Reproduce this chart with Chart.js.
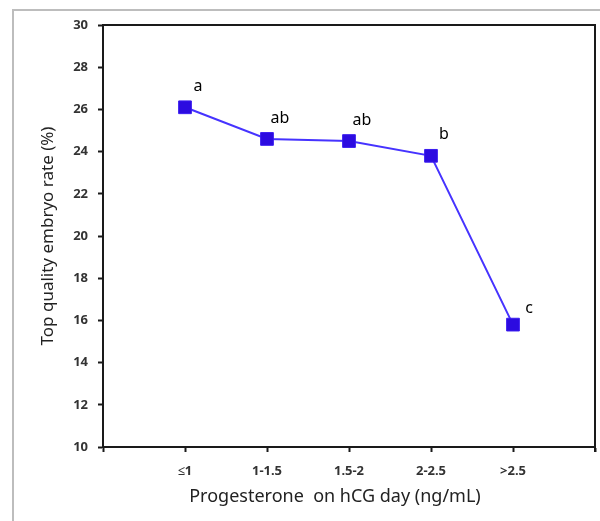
<!DOCTYPE html>
<html>
<head>
<meta charset="utf-8">
<script src="https://cdn.jsdelivr.net/npm/chart.js@4.4.0/dist/chart.umd.min.js"></script>
<style>
  html, body { margin: 0; padding: 0; background: #fff; }
  #wrap { position: relative; width: 600px; height: 521px; }
  #frame { position: absolute; left: 12px; top: 9px; right: -10px; bottom: -10px;
           border-left: 2px solid #bdbdbd; border-top: 2px solid #bdbdbd; pointer-events: none; }
</style>
</head>
<body>
<div id="wrap">
  <canvas id="myChart" width="600" height="521"></canvas>
  <div id="frame"></div>
</div>
<script>
// groups of progesterone on hCG day
const categories = ["≤1", "1-1.5", "1.5-2", "2-2.5", ">2.5"];
const rates = [26.1, 24.6, 24.5, 23.8, 15.8];
const letters = ["a", "ab", "ab", "b", "c"];
const yTicks = [10, 12, 14, 16, 18, 20, 22, 24, 26, 28, 30];
const xTitle = "Progesterone  on hCG day (ng/mL)";

// letters above the points + x title
const letterPlugin = {
  id: "letters",
  afterDatasetsDraw(chart) {
    const ctx = chart.ctx;
    const meta = chart.getDatasetMeta(0);
    const a = chart.chartArea;
    ctx.save();
    ctx.font = "16px 'Noto Sans'";
    ctx.fillStyle = "#000";
    ctx.textAlign = "center";
    ctx.textBaseline = "middle";
    meta.data.forEach((pt, i) => {
      const dx = i === 4 ? 16 : 13;
      ctx.fillText(letters[i], pt.x + dx, pt.y - (i === 4 ? 16 : 21));
    });
    ctx.font = "18px 'Noto Sans'";
    ctx.fillStyle = "#222";
    ctx.fillText(xTitle, (a.left + a.right) / 2 - 14, a.bottom + 50);
    ctx.restore();
  }
};

// box round the plot area
const boxPlugin = {
  id: "box",
  afterDraw(chart) {
    const a = chart.chartArea;
    const ctx = chart.ctx;
    ctx.save();
    ctx.strokeStyle = "#1a1a1a";
    ctx.lineWidth = 2;
    ctx.beginPath();
    ctx.moveTo(a.left, a.top);
    ctx.lineTo(a.right, a.top);
    ctx.lineTo(a.right, a.bottom + 5);
    ctx.stroke();
    ctx.restore();
  }
};

const ctx = document.getElementById("myChart").getContext("2d");
const myChart = new Chart(ctx, {
  type: "line",
  data: {
    datasets: [
      {
        label: "Top quality embryo rate",
        data: rates.map((v, i) => ({ x: i + 1, y: v })),
        borderColor: "#4633ff",
        borderWidth: 2,
        backgroundColor: "#2c0be0",
        pointBackgroundColor: "#2c0be0",
        pointBorderColor: "#3a1cf0",
        pointBorderWidth: 1,
        pointStyle: "rect",
        pointRadius: 9,
        tension: 0,
        fill: false,
      },
    ],
  },
  options: {
    responsive: false,
    animation: false,
    layout: { autoPadding: false, padding: { left: 0, top: 25, right: 5, bottom: 0 } },
    plugins: {
      legend: { display: false },
      tooltip: { enabled: false },
    },
    scales: {
      x: {
        type: "linear",
        min: 0,
        max: 6,
        afterBuildTicks: (s) => { s.ticks = [0, 1, 2, 3, 4, 5, 6].map(v => ({ value: v })); },
        afterFit: (s) => { s.height = 74; s.paddingRight = 0; s.paddingLeft = 0; },
        grid: { drawOnChartArea: false, drawTicks: true, tickLength: 5, tickColor: "#1a1a1a", tickWidth: 2 },
        border: { display: true, color: "#1a1a1a", width: 2 },
        ticks: {
          padding: 11,
          autoSkip: false,
          maxRotation: 0,
          color: "#333",
          font: { family: "'Noto Sans'", size: 13, weight: "bold" },
          callback: (v) => categories[v - 1] || "",
        },
      },
      y: {
        min: 10,
        max: 30,
        afterBuildTicks: (s) => { s.ticks = yTicks.map(v => ({ value: v })); },
        afterFit: (s) => { s.width = 103; },
        grid: { drawOnChartArea: false, drawTicks: true, tickLength: 5, tickColor: "#1a1a1a", tickWidth: 2 },
        border: { display: true, color: "#1a1a1a", width: 2 },
        ticks: {
          padding: 10,
          color: "#333",
          font: { family: "'Noto Sans'", size: 13, weight: "bold" },
        },
        title: {
          display: true,
          text: "Top quality embryo rate (%)",
          color: "#222",
          font: { family: "'Noto Sans'", size: 17 },
          padding: { top: 38, bottom: 0 },
        },
      },
    },
  },
  plugins: [letterPlugin, boxPlugin],
});
</script>
</body>
</html>
